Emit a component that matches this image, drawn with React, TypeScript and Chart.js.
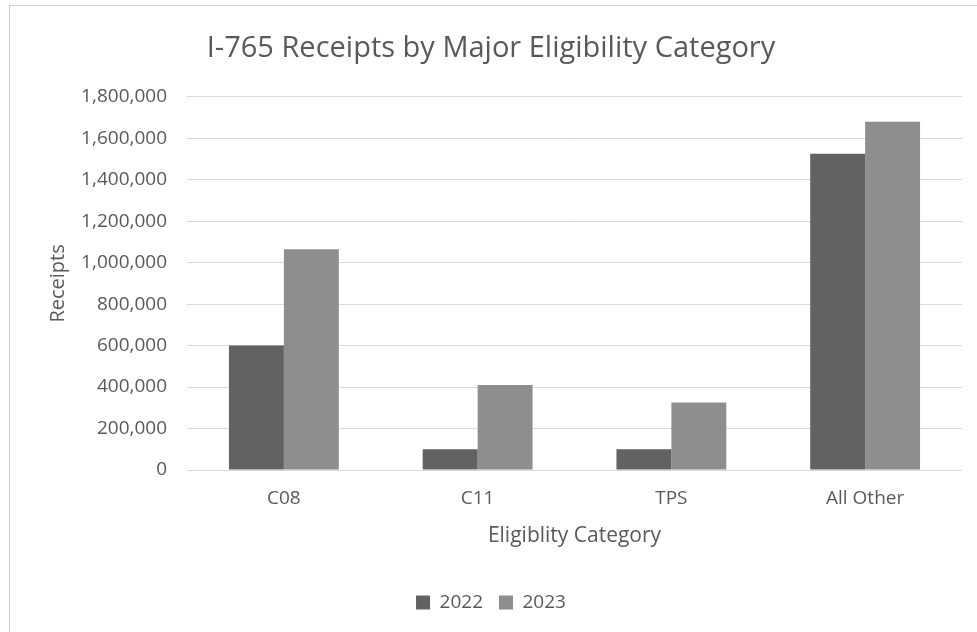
import React, { useEffect, useRef } from "react";
import { Chart, registerables } from "chart.js";

Chart.register(...registerables);

const categories = ["C08", "C11", "TPS", "All Other"];
const series2022 = [600000, 100000, 100000, 1525000];
const series2023 = [1065000, 410000, 325000, 1680000];
const seriesLabels = ["2022", "2023"];
const yTicks = [0, 200000, 400000, 600000, 800000, 1000000, 1200000, 1400000, 1600000, 1800000];

const FONT = "'Open Sans', 'Liberation Sans', sans-serif";
const TEXT = "#595959";

export default function App() {
  const ref = useRef<HTMLCanvasElement | null>(null);

  useEffect(() => {
    if (!ref.current) return;
    const chart = new Chart(ref.current, {
      type: "bar",
      data: {
        labels: categories,
        datasets: [
          {
            label: seriesLabels[0],
            data: series2022,
            backgroundColor: "#626262",
            borderWidth: 0,
          },
          {
            label: seriesLabels[1],
            data: series2023,
            backgroundColor: "#8e8e8e",
            borderWidth: 0,
          },
        ],
      },
      options: {
        responsive: false,
        animation: false,
        layout: { padding: { left: 20, right: 15, top: 0, bottom: 10 } },
        datasets: { bar: { barPercentage: 1, categoryPercentage: 0.567 } },
        plugins: {
          tooltip: { enabled: false },
          title: {
            display: true,
            text: "I-765 Receipts by Major Eligibility Category",
            color: TEXT,
            font: { family: FONT, size: 29, weight: "normal" },
            padding: { top: 31, bottom: 31 },
          },
          legend: {
            position: "bottom",
            labels: {
              color: TEXT,
              font: { family: FONT, size: 19 },
              boxWidth: 14,
              boxHeight: 14,
              padding: 16,
            },
          },
        },
        scales: {
          x: {
            grid: { display: false, drawTicks: false },
            border: { display: false },
            ticks: { color: TEXT, font: { family: FONT, size: 19 }, padding: 17 },
            title: {
              display: true,
              text: "Eligiblity Category",
              color: TEXT,
              font: { family: FONT, size: 21 },
              padding: { top: 10, bottom: 28 },
            },
            afterFit: (s: any) => {
              s.height = 107;
            },
          },
          y: {
            min: 0,
            max: 1800000,
            afterBuildTicks: (s: any) => {
              s.ticks = yTicks.map((v) => ({ value: v }));
            },
            grid: { color: "#d9d9d9", lineWidth: 1, drawTicks: false },
            border: { display: false },
            ticks: {
              color: TEXT,
              font: { family: FONT, size: 19 },
              padding: 20,
              callback: (v: any) => Number(v).toLocaleString("en-US"),
            },
            title: {
              display: true,
              text: "Receipts",
              color: TEXT,
              font: { family: FONT, size: 20 },
              padding: { top: 26, bottom: 0 },
            },
            afterFit: (s: any) => {
              s.width = 167;
            },
          },
        },
      },
    });
    return () => chart.destroy();
  }, []);

  return (
    <div style={{ position: "fixed", left: 0, top: 0, width: 977, height: 632, background: "#fff" }}>
      <div
        style={{
          position: "absolute",
          left: 9,
          top: 5,
          right: 0,
          bottom: 0,
          borderTop: "1px solid #d0d0d0",
          borderLeft: "1px solid #d0d0d0",
        }}
      />
      <canvas ref={ref} width={977} height={632} style={{ position: "absolute", left: 0, top: 0 }} />
    </div>
  );
}
